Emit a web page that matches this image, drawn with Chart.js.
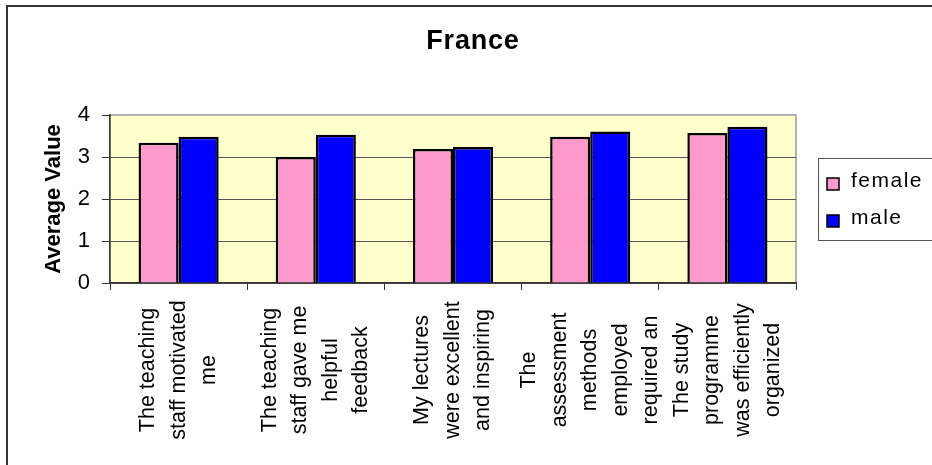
<!DOCTYPE html>
<html>
<head>
<meta charset="utf-8">
<title>France</title>
<script src="https://cdn.jsdelivr.net/npm/chart.js@4.4.1/dist/chart.umd.min.js"></script>
<style>
    html, body { margin: 0; padding: 0; background: #fff; }
    canvas { display: block; }
</style>
</head>
<body>
<canvas id="franceChart" width="932" height="465"></canvas>
<script>
// Survey statements, one entry per wrapped line
const categories = [
    ['The teaching', 'staff motivated', 'me'],
    ['The teaching', 'staff gave me', 'helpful', 'feedback'],
    ['My lectures', 'were excellent', 'and inspiring'],
    ['The', 'assessment', 'methods', 'employed', 'required an'],
    ['The study', 'programme', 'was efficiently', 'organized']
];
const seriesNames = ['female', 'male'];
const femaleValues = [3.34, 3.00, 3.19, 3.48, 3.57];
const maleValues = [3.48, 3.53, 3.24, 3.61, 3.72];
const yTicks = [0, 1, 2, 3, 4];
const chartTitle = 'France';

const FONT = '"Liberation Sans", Arial, sans-serif';
Chart.defaults.font.family = FONT;
Chart.defaults.color = '#000';

// Yellow plot area, grey plot frame, outer chart frame and the title
const plotBackground = {
    id: 'plotBackground',
    beforeDraw(chart) {
        const { ctx, chartArea: a } = chart;
        ctx.save();
        ctx.fillStyle = '#fff';
        ctx.fillRect(0, 0, chart.width, chart.height);
        ctx.fillStyle = '#FFFFCC';
        ctx.fillRect(a.left, a.top, a.width, a.height);
        ctx.strokeStyle = '#999';
        ctx.lineWidth = 1.5;
        ctx.strokeRect(a.left, a.top, a.width, a.height);
        ctx.strokeStyle = '#333';
        ctx.lineWidth = 2;
        ctx.strokeRect(7, 6, chart.width + 20, chart.height + 20);

        ctx.fillStyle = '#000';
        ctx.font = 'bold 27px ' + FONT;
        ctx.textAlign = 'center';
        ctx.textBaseline = 'middle';
        if ('letterSpacing' in ctx) ctx.letterSpacing = '0.8px';
        ctx.fillText(chartTitle, 473, 42);
        ctx.restore();
    }
};

// Vertical, centred multi-line category labels
const categoryLabels = {
    id: 'categoryLabels',
    afterDraw(chart) {
        const { ctx } = chart;
        const xScale = chart.scales.x;
        ctx.save();
        ctx.font = '21.5px ' + FONT;
        ctx.fillStyle = '#000';
        ctx.textAlign = 'center';
        ctx.textBaseline = 'middle';
        categories.forEach((lines, i) => {
            ctx.save();
            ctx.translate(xScale.getPixelForValue(i), xScale.top + 87);
            ctx.rotate(-Math.PI / 2);
            lines.forEach((line, j) => {
                ctx.fillText(line, 0, (j - (lines.length - 1) / 2) * 30.5);
            });
            ctx.restore();
        });
        ctx.restore();
    }
};

// Boxed legend to the right of the plot
const boxedLegend = {
    id: 'boxedLegend',
    afterDraw(chart) {
        const { ctx, chartArea: a } = chart;
        const left = a.right + 22;
        const top = 158;
        ctx.save();
        ctx.strokeStyle = '#555';
        ctx.lineWidth = 1;
        ctx.strokeRect(left + 0.5, top + 0.5, 160, 82);
        ctx.font = '21px ' + FONT;
        ctx.textBaseline = 'alphabetic';
        ctx.textAlign = 'left';
        if ('letterSpacing' in ctx) ctx.letterSpacing = '1.5px';
        chart.data.datasets.forEach((ds, i) => {
            const y = top + 20 + i * 37;
            ctx.fillStyle = ds.backgroundColor;
            ctx.fillRect(left + 9, y, 12, 12);
            ctx.strokeStyle = '#000';
            ctx.lineWidth = 1.5;
            ctx.strokeRect(left + 9, y, 12, 12);
            ctx.fillStyle = '#000';
            ctx.fillText(ds.label, left + 33, y + 9);
        });
        ctx.restore();
    }
};

new Chart(document.getElementById('franceChart'), {
    type: 'bar',
    data: {
        labels: categories.map(lines => lines.join(' ')),
        datasets: [
            { label: seriesNames[0], data: femaleValues, backgroundColor: '#FF99CC' },
            { label: seriesNames[1], data: maleValues, backgroundColor: '#0000FF' }
        ]
    },
    options: {
        responsive: false,
        animation: false,
        devicePixelRatio: 1,
        layout: { padding: { left: 0, right: 136, top: 115, bottom: 0 } },
        datasets: {
            bar: {
                borderColor: '#000',
                borderWidth: 2.5,
                categoryPercentage: 0.584,
                barPercentage: 1
            }
        },
        plugins: {
            legend: { display: false },
            tooltip: { enabled: false },
            title: { display: false }
        },
        scales: {
            x: {
                grid: {
                    offset: true,
                    drawOnChartArea: false,
                    tickLength: 7,
                    tickColor: '#333'
                },
                border: { color: '#333', width: 1.5 },
                ticks: { display: false },
                afterFit(scale) { scale.height = 182; }
            },
            y: {
                min: yTicks[0],
                max: yTicks[yTicks.length - 1],
                afterBuildTicks(scale) { scale.ticks = yTicks.map(v => ({ value: v })); },
                grid: {
                    color: c => (c.tick && c.tick.value === yTicks[yTicks.length - 1]) ? 'rgba(0,0,0,0)' : '#555',
                    tickColor: '#333',
                    tickLength: 8
                },
                border: { color: '#333', width: 1.5 },
                ticks: { font: { size: 22 }, color: '#000', padding: 12 },
                title: {
                    display: true,
                    text: 'Average Value',
                    color: '#000',
                    font: { size: 22, weight: 'bold' },
                    padding: { top: 41, bottom: 0 }
                },
                afterFit(scale) { scale.width = 110; }
            }
        }
    },
    plugins: [plotBackground, categoryLabels, boxedLegend]
});
</script>
</body>
</html>
